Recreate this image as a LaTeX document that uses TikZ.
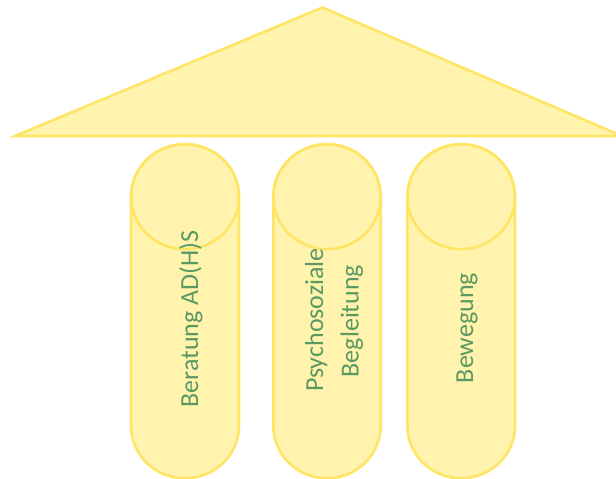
\documentclass[tikz,border=0pt]{standalone}
\usepackage{fontspec}
\setmainfont{Carlito}
\definecolor{pillarfill}{HTML}{FFF3AE}
\definecolor{pillarline}{HTML}{FFE566}
\definecolor{labelgreen}{HTML}{5A9A62}
\begin{document}
\begin{tikzpicture}[x=1pt,y=-1pt,
  part/.style={fill=pillarfill,draw=pillarline,line width=2.6pt,line join=miter},
  rim/.style={draw=pillarline,line width=2.6pt},
  lbl/.style={text=labelgreen,font=\fontsize{26}{32}\selectfont,rotate=90,anchor=base,inner sep=0pt}]
\useasboundingbox (0,0) rectangle (616,479);
% roof
\coordinate (apex) at (322.5,7.5);
\coordinate (eaveL) at (15,136);
\coordinate (eaveR) at (622,136);
\draw[part] (eaveL) -- (apex) -- (eaveR) -- cycle;
% pillars: center x, half width
\foreach \nm/\cx/\rx in {p1/185/54, p2/327/53.7, p3/461.2/53.8}{
  \coordinate (\nm top) at (\cx,196.7);
  \coordinate (\nm bot) at (\cx,425.8);
  \draw[part] ([xshift=-\rx pt]\nm bot) -- ([xshift=-\rx pt]\nm top)
     arc[start angle=180,end angle=0,x radius=\rx,y radius=-52.5]
     -- ([xshift=\rx pt]\nm bot)
     arc[start angle=0,end angle=-180,x radius=\rx,y radius=-52.5] -- cycle;
  \draw[rim] (\nm top) ellipse[x radius=\rx,y radius=52.5];
}
\node[lbl] (t1) at (198,319) {Beratung AD(H)S};
\node[lbl] (t2a) at (323,320) {Psychosoziale};
\node[lbl] (t2b) at (358.5,321) {Begleitung};
\node[lbl] (t3) at (473,328) {Bewegung};
\end{tikzpicture}
\end{document}
